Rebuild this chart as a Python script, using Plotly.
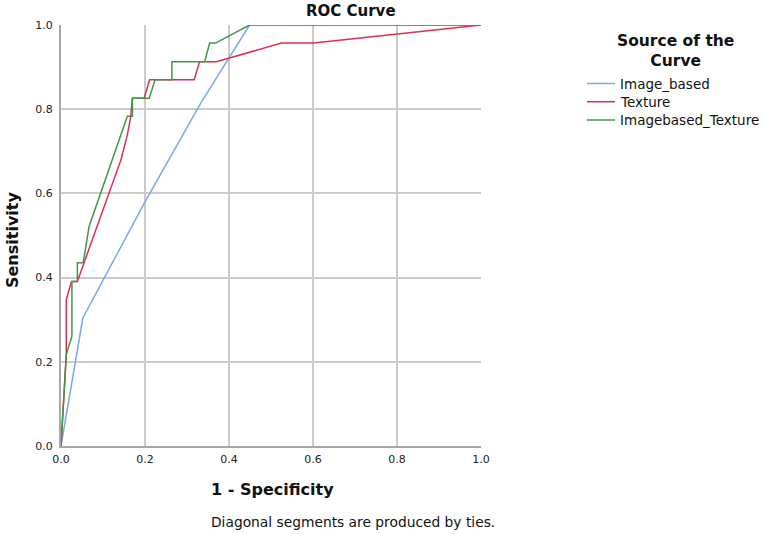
import plotly.graph_objects as go

# Series names and colours
series_names = ["Image_based", "Texture", "Imagebased_Texture"]
series_colors = ["#76a9ee", "#e22c52", "#3f9845"]

# Image_based
img_fpr = [0, 0.052, 0.2, 0.333, 0.449, 1.0]
img_tpr = [0, 0.304, 0.58, 0.815, 1.0, 1.0]

# Texture
tex_fpr = [0, 0.0126, 0.0126, 0.025, 0.039, 0.1425, 0.158, 0.166, 0.170, 0.198, 0.211,
           0.317, 0.330, 0.370, 0.525, 0.602, 1.0]
tex_tpr = [0, 0.217, 0.348, 0.391, 0.391, 0.679, 0.739, 0.782, 0.826, 0.826, 0.870,
           0.870, 0.913, 0.913, 0.957, 0.957, 1.0]

# Imagebased_Texture
comb_fpr = [0, 0.0126, 0.026, 0.026, 0.039, 0.039, 0.053, 0.067, 0.158, 0.170, 0.170,
            0.210, 0.224, 0.264, 0.264, 0.342, 0.354, 0.368, 0.449, 1.0]
comb_tpr = [0, 0.217, 0.261, 0.391, 0.391, 0.435, 0.435, 0.522, 0.783, 0.783, 0.826,
            0.826, 0.870, 0.870, 0.913, 0.913, 0.957, 0.957, 1.0, 1.0]

tick_vals = [0, 0.2, 0.4, 0.6, 0.8, 1.0]
tick_text = ["0.0", "0.2", "0.4", "0.6", "0.8", "1.0"]

FONT = "DejaVu Sans"

L, R, T, B = 61, 481, 25, 446
W, H = R - L, B - T


def px(xp):
    return (xp - L) / W


def py(yp):
    return (B - yp) / H


fig = go.Figure()
for name, color, xs, ys in zip(series_names, series_colors,
                               [img_fpr, tex_fpr, comb_fpr],
                               [img_tpr, tex_tpr, comb_tpr]):
    fig.add_trace(go.Scatter(x=xs, y=ys, mode="lines", name=name,
                             line=dict(color=color, width=1.5), showlegend=False))

axis_common = dict(
    range=[0, 1], tickvals=tick_vals, ticktext=tick_text,
    showgrid=True, gridcolor="#cbcbcb", gridwidth=1.5,
    showline=True, linecolor="#a8a8a8", linewidth=2,
    zeroline=False, ticks="", tickfont=dict(family=FONT, size=11, color="#222"),
    fixedrange=True,
)

annotations = [
    dict(text="<b>ROC Curve</b>", x=px(351), y=py(11), xanchor="center", yanchor="middle",
         font=dict(family=FONT, size=15)),
    dict(text="<b>1 - Specificity</b>", x=px(272), y=py(490), xanchor="center", yanchor="middle",
         font=dict(family=FONT, size=16)),
    dict(text="<b>Sensitivity</b>", x=px(13), y=py(240), xanchor="center", yanchor="middle",
         textangle=-90, font=dict(family=FONT, size=16)),
    dict(text="Diagonal segments are produced by ties.", x=px(209), y=py(522),
         xanchor="left", yanchor="middle", font=dict(family=FONT, size=13.8)),
    dict(text="<b>Source of the<br>Curve</b>", x=px(675), y=py(51), xanchor="center",
         yanchor="middle", align="center", font=dict(family=FONT, size=15.5)),
]
shapes = []
legend_rows = [83.5, 101.7, 120]
for name, color, yrow in zip(series_names, series_colors, legend_rows):
    shapes.append(dict(type="line", xref="paper", yref="paper",
                       x0=px(587), x1=px(615), y0=py(yrow), y1=py(yrow),
                       line=dict(color=color, width=1.5)))
    annotations.append(dict(text=name, x=px(618), y=py(yrow), xanchor="left", yanchor="middle",
                            font=dict(family=FONT, size=13.5)))
for a in annotations:
    a.update(xref="paper", yref="paper", showarrow=False)
    a["font"]["color"] = "#111"

fig.update_layout(
    width=765, height=534,
    margin=dict(l=L, r=765 - R, t=T, b=534 - B, autoexpand=False),
    paper_bgcolor="white", plot_bgcolor="white",
    font=dict(family=FONT, color="#111"),
    xaxis=dict(**axis_common, ticklabelstandoff=2),
    yaxis=dict(**axis_common, ticklabelstandoff=4),
    showlegend=False,
    annotations=annotations,
    shapes=shapes,
)

fig.write_html("out.html", config={"displayModeBar": False},
               post_script="document.body.style.margin='0px';document.body.style.overflow='hidden';")
